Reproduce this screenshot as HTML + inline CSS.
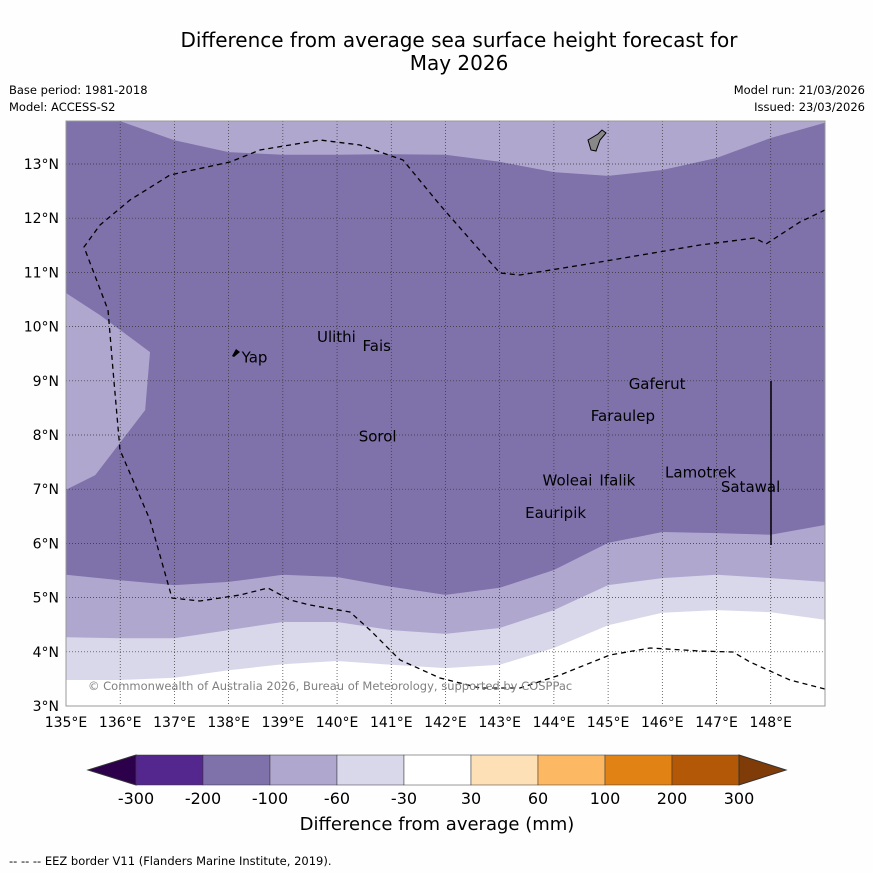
<!DOCTYPE html>
<html><head><meta charset="utf-8"><style>
body{margin:0;background:#fff;font-family:"Liberation Sans","DejaVu Sans",sans-serif}
svg text{font-family:"DejaVu Sans","Liberation Sans",sans-serif}
</style></head><body>
<svg id="chart" width="873" height="873" viewBox="0 0 873 873" xmlns="http://www.w3.org/2000/svg">
<rect width="873" height="873" fill="#fefefe"/>
<text x="459" y="47" font-size="20" text-anchor="middle">Difference from average sea surface height forecast for</text>
<text x="459" y="70" font-size="20" text-anchor="middle">May 2026</text>
<text x="9" y="94" font-size="11.5">Base period: 1981-2018</text>
<text x="9" y="111" font-size="11.5">Model: ACCESS-S2</text>
<text x="865" y="94" font-size="11.5" text-anchor="end">Model run: 21/03/2026</text>
<text x="865" y="111" font-size="11.5" text-anchor="end">Issued: 23/03/2026</text>
<defs><clipPath id="mapclip"><rect x="66" y="121" width="759" height="585"/></clipPath></defs>
<g id="map" clip-path="url(#mapclip)"></g>
<g id="grid"></g>
<g id="overlay" clip-path="url(#mapclip)">
<path fill="none" stroke="#000" stroke-width="1.3" stroke-dasharray="5,4" d="M825,210 L800,222 L766,244 L755,238 L700,245 L600,262 L520,275 L500,273 L475,245 L440,205 L403,160 L360,145 L320,140 L260,150 L230,162 L170,175 L130,200 L100,225 L84,247 L108,310 L113,370 L120,450 L150,520 L172,598 L200,601 L240,595 L268,588 L290,600 L310,605 L350,612 L370,630 L400,660 L440,678 L480,688 L520,688 L560,675 L610,655 L650,648 L700,651 L733,652 L750,662 L790,680 L825,689"/>
<line x1="771" y1="381" x2="771" y2="545" stroke="#000" stroke-width="1.5"/>
<path d="M588,140 L598,134 L602,130 L606,133 L600,140 L596,151 L591,150 Z" fill="#888" stroke="#000" stroke-width="1"/>
<path d="M236,349 L240,352 L234,357 L232,356 Z" fill="#000"/>
<text x="88" y="690" font-size="11.5" fill="#808080">© Commonwealth of Australia 2026, Bureau of Meteorology, supported by COSPPac</text>
</g>
<rect x="66" y="121" width="759" height="585" fill="none" stroke="#999" stroke-width="1"/>
<g id="cbar"></g>
<text x="437" y="830" font-size="18" text-anchor="middle">Difference from average (mm)</text>
<text x="9" y="865" font-size="11.5">--  --  -- EEZ border V11 (Flanders Marine Institute, 2019).</text>
</svg>
<script>
const gridLons=[135,136,137,138,139,140,141,142,143,144,145,146,147,148,149];
const darkBottomLat=[5.42,5.32,5.23,5.29,5.42,5.38,5.20,5.05,5.18,5.51,6.01,6.21,6.19,6.16,6.34];
const midLat=[4.27,4.25,4.25,4.40,4.55,4.55,4.40,4.33,4.44,4.77,5.23,5.36,5.42,5.36,5.29];
const whiteLat=[3.48,3.48,3.52,3.66,3.77,3.83,3.76,3.70,3.76,4.07,4.49,4.72,4.77,4.73,4.59];
const darkTopLat=[14.2,13.79,13.44,13.22,13.17,13.17,13.18,13.17,13.04,12.85,12.78,12.89,13.11,13.48,13.76];
const patchLon=[135,135.63,136.55,136.46,135.54,135];
const patchLat=[10.62,10.21,9.53,8.46,7.26,6.99];
const xTicks=[135,136,137,138,139,140,141,142,143,144,145,146,147,148];
const yTicks=[3,4,5,6,7,8,9,10,11,12,13];
const placeNames=["Yap","Ulithi","Fais","Gaferut","Faraulep","Sorol","Woleai","Ifalik","Lamotrek","Satawal","Eauripik"];
const placeLon=[138.24,139.63,140.47,145.38,144.68,140.4,143.79,144.84,146.05,147.08,143.47];
const placeLat=[9.34,9.72,9.55,8.85,8.26,7.88,7.07,7.07,7.22,6.95,6.47];
const cbLevels=["-300","-200","-100","-60","-30","30","60","100","200","300"];
const cbColors=["#54278f","#7f71aa","#b0a7cf","#d9d8ea","#ffffff","#fee0b6","#fdb863","#e08214","#b35806"];
const NS="http://www.w3.org/2000/svg";
const X=l=>66+(l-135)*54.21, Y=l=>706-(l-3)*54.2;
function mk(t,a,p){const e=document.createElementNS(NS,t);for(const k in a)e.setAttribute(k,a[k]);p.appendChild(e);return e;}
const map=document.getElementById('map');
function line(lats){return gridLons.map((l,i)=>X(l).toFixed(1)+','+Y(lats[i]).toFixed(1));}
let r=mk('rect',{x:60,y:110,width:780,height:610,fill:'#b0a7cf'},map);

let p=mk('path',{d:'M'+line(darkTopLat).join(' L')+' L'+line(darkBottomLat).reverse().join(' L')+'Z',fill:'#7f71aa'},map);

p=mk('path',{d:'M'+line(midLat).join(' L')+' L830,720 L60,720 Z',fill:'#d9d8ea'},map);

p=mk('path',{d:'M'+line(whiteLat).join(' L')+' L830,720 L60,720 Z',fill:'#ffffff'},map);

p=mk('path',{d:'M'+patchLon.map((l,i)=>X(l)+','+Y(patchLat[i])).join(' L')+'Z',fill:'#b0a7cf'},map);

const g=document.getElementById('grid');
xTicks.forEach(l=>{
 if(l>135){let ln=mk('line',{x1:X(l),x2:X(l),y1:121,y2:706,stroke:'#333','stroke-width':0.7,'stroke-dasharray':'1,2'},g);
 }
 let t=mk('text',{x:X(l),y:727,'font-size':14,'text-anchor':'middle'},g);t.textContent=l+'°E';
 
});
yTicks.forEach(l=>{
 let ln=mk('line',{x1:66,x2:825,y1:Y(l),y2:Y(l),stroke:'#333','stroke-width':0.7,'stroke-dasharray':'1,2'},g);
 
 let t=mk('text',{x:59,y:Y(l)+5,'font-size':14,'text-anchor':'end'},g);t.textContent=l+'°N';
 
});
const ov=document.getElementById('overlay');
placeNames.forEach((n,i)=>{
 let t=mk('text',{x:X(placeLon[i]),y:Y(placeLat[i]),'font-size':15},ov);t.textContent=n;
 
});
const cb=document.getElementById('cbar');
const cx0=136,cw=67,cy=755,ch=30;
let tri=mk('polygon',{points:`88,770 ${cx0},${cy} ${cx0},${cy+ch}`,fill:'#2d004b',stroke:'#333'},cb);

cbColors.forEach((c,i)=>{
 let b=mk('rect',{x:cx0+i*cw,y:cy,width:cw,height:ch,fill:c,stroke:'#333','stroke-width':0.5},cb);
 
});
const cx1=cx0+cbColors.length*cw;
tri=mk('polygon',{points:`${cx1},${cy} 786,770 ${cx1},${cy+ch}`,fill:'#7f3b08',stroke:'#333'},cb);

cbLevels.forEach((v,i)=>{
 let t=mk('text',{x:cx0+i*cw,y:804,'font-size':16,'text-anchor':'middle'},cb);t.textContent=v;
 
});
</script>
</body></html>
